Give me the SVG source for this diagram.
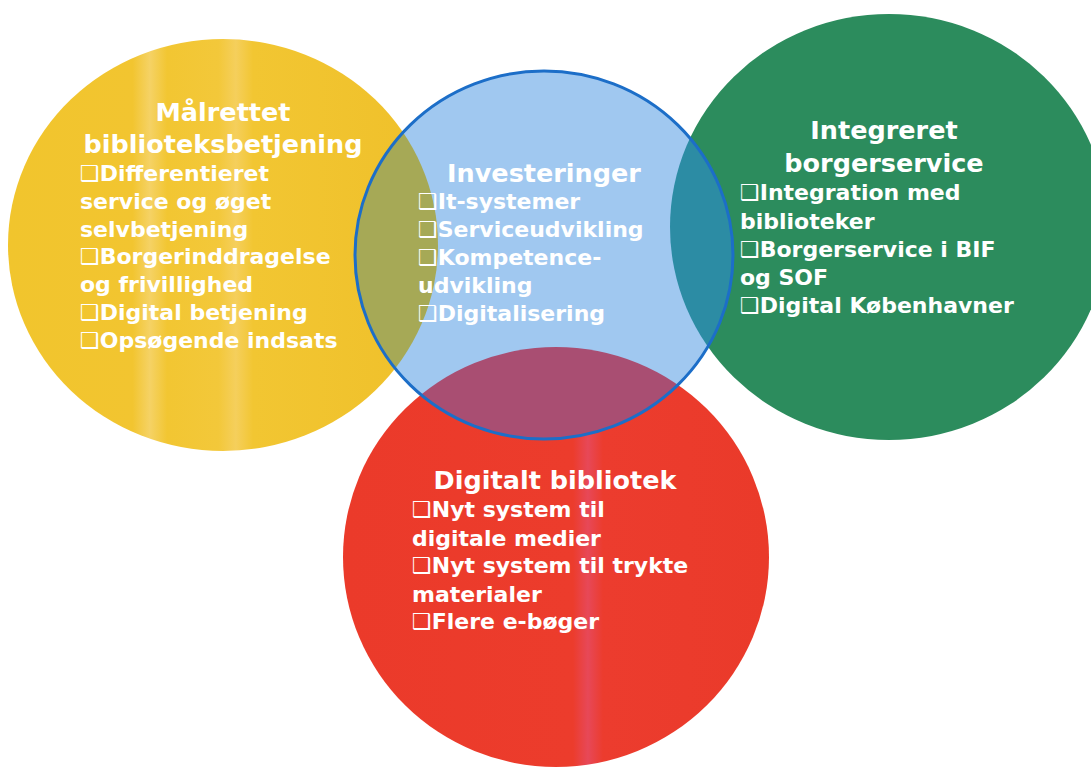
<svg xmlns="http://www.w3.org/2000/svg" width="1091" height="769" viewBox="0 0 1091 769">
<style>
text{font-family:"DejaVu Sans","Liberation Sans",sans-serif;font-weight:bold;fill:#ffffff}
.t{font-size:25.5px;text-anchor:middle}
.b{font-size:22px}
</style>
<defs>
<linearGradient id="gy" x1="0" y1="0" x2="1" y2="0">
<stop offset="0" stop-color="#F1C52D"/>
<stop offset="0.29" stop-color="#F2C530"/>
<stop offset="0.33" stop-color="#F5D265"/>
<stop offset="0.37" stop-color="#F2C632"/>
<stop offset="0.49" stop-color="#F3C83A"/>
<stop offset="0.53" stop-color="#F5CF5C"/>
<stop offset="0.57" stop-color="#F2C632"/>
<stop offset="1" stop-color="#EFC02A"/>
</linearGradient>
<linearGradient id="gr" x1="0" y1="0" x2="1" y2="0">
<stop offset="0" stop-color="#EB3A2A"/>
<stop offset="0.54" stop-color="#EC3C2C"/>
<stop offset="0.575" stop-color="#E74858"/>
<stop offset="0.61" stop-color="#EC3C2E"/>
<stop offset="1" stop-color="#EA3A2A"/>
</linearGradient>
<clipPath id="cb"><ellipse cx="544" cy="255" rx="189" ry="184"/></clipPath>
</defs>
<rect width="1091" height="769" fill="#ffffff"/>
<g id="connectors"/>
<g id="node-maalrettet">
<ellipse cx="223" cy="245" rx="215" ry="206" fill="url(#gy)"/>
<text class="t" x="223" y="121">Målrettet</text>
<text class="t" x="223" y="153">biblioteksbetjening</text>
<text class="b" x="80" y="181">❑Differentieret</text>
<text class="b" x="80" y="209">service og øget</text>
<text class="b" x="80" y="237">selvbetjening</text>
<text class="b" x="80" y="264">❑Borgerinddragelse</text>
<text class="b" x="80" y="292">og frivillighed</text>
<text class="b" x="80" y="320">❑Digital betjening</text>
<text class="b" x="80" y="348">❑Opsøgende indsats</text>
</g>
<g id="node-integreret">
<ellipse cx="889" cy="227" rx="219" ry="213" fill="#2C8C5D"/>
<text class="t" x="884" y="139">Integreret</text>
<text class="t" x="884" y="172">borgerservice</text>
<text class="b" x="740" y="200">❑Integration med</text>
<text class="b" x="740" y="229">biblioteker</text>
<text class="b" x="740" y="257">❑Borgerservice i BIF</text>
<text class="b" x="740" y="285">og SOF</text>
<text class="b" x="740" y="313">❑Digital Københavner</text>
</g>
<g id="node-digitalt">
<ellipse cx="556" cy="557" rx="213" ry="210" fill="url(#gr)"/>
<text class="t" x="555" y="489">Digitalt bibliotek</text>
<text class="b" x="412" y="517">❑Nyt system til</text>
<text class="b" x="412" y="546">digitale medier</text>
<text class="b" x="412" y="573">❑Nyt system til trykte</text>
<text class="b" x="412" y="602">materialer</text>
<text class="b" x="412" y="629">❑Flere e-bøger</text>
</g>
<g id="node-investeringer">
<ellipse cx="544" cy="255" rx="189" ry="184" fill="#A0C8F0"/>
<g clip-path="url(#cb)">
<ellipse cx="223" cy="245" rx="215" ry="206" fill="#A6A956"/>
<ellipse cx="889" cy="227" rx="219" ry="213" fill="#2C8CA4"/>
<ellipse cx="556" cy="557" rx="213" ry="210" fill="#A94E72"/>
</g>
<ellipse cx="544" cy="255" rx="189" ry="184" fill="none" stroke="#1C6EC8" stroke-width="3"/>
<text class="t" x="544" y="182">Investeringer</text>
<text class="b" x="418" y="209">❑It-systemer</text>
<text class="b" x="418" y="237">❑Serviceudvikling</text>
<text class="b" x="418" y="265">❑Kompetence-</text>
<text class="b" x="418" y="293">udvikling</text>
<text class="b" x="418" y="321">❑Digitalisering</text>
</g>
</svg>
